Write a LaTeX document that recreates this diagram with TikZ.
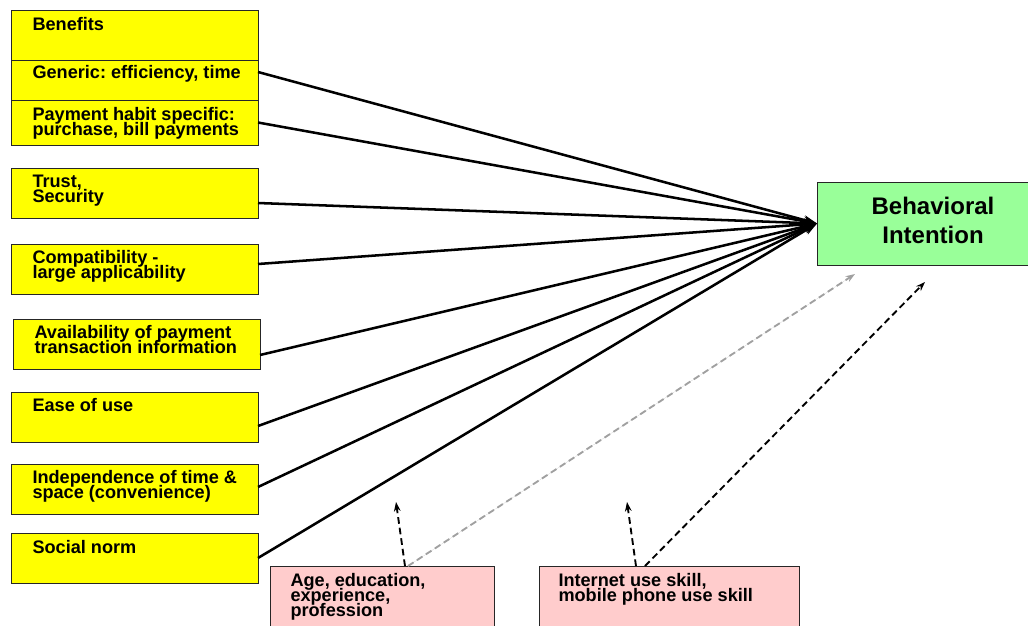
\documentclass[tikz,border=0pt]{standalone}
\usepackage{fontspec}
\setmainfont{Liberation Sans}
\usetikzlibrary{arrows.meta}
\frenchspacing

\definecolor{boxyellow}{RGB}{255,255,0}
\definecolor{boxgreen}{RGB}{153,255,153}
\definecolor{boxpink}{RGB}{255,204,204}
\definecolor{dashgrey}{RGB}{160,160,160}

\newcommand{\lblfont}{\bfseries\fontsize{13.6}{11.25}\selectfont\lineskiplimit=-6pt\relax}

\tikzset{every picture/.style={line width=0.75pt}}
\tikzset{
  ybox/.style={draw=black!85, fill=boxyellow, line width=0.75pt, anchor=north west, inner sep=0pt, outer sep=0pt, minimum width=185.25pt},
  pbox/.style={draw=black!85, fill=boxpink, line width=0.75pt, anchor=north west, inner sep=0pt, outer sep=0pt, minimum height=60pt},
  gbox/.style={draw=black!85, fill=boxgreen, line width=0.75pt, anchor=north west, inner sep=0pt, outer sep=0pt, minimum width=160pt, minimum height=62.25pt},
  lbl/.style={anchor=north west, inner sep=0pt, align=left, font=\lblfont},
  flow/.style={line width=1.9pt, -{Stealth[length=10pt,width=7pt]}},
  mod/.style={line width=1.4pt, dash pattern={on 5pt off 3pt}, -{Stealth[length=7pt,width=5pt]}}
}

\begin{document}
\begin{tikzpicture}[x=0.75pt,y=0.75pt,yscale=-1,xscale=1]
		\useasboundingbox (0,0) rectangle (1028,625);
		
		%Benefit boxes
		\node [ybox, minimum height=37.5pt] (ben) at (11,10) {};
		\node [ybox, minimum height=30pt] (gen) at (11,60) {};
		\node [ybox, minimum height=33.75pt] (pay) at (11,100) {};
		\node [ybox, minimum height=37.5pt] (trust) at (11,168) {};
		\node [ybox, minimum height=37.5pt] (compat) at (11,244) {};
		\node [ybox, minimum height=37.5pt] (avail) at (13,319) {};
		\node [ybox, minimum height=37.5pt] (ease) at (11,392) {};
		\node [ybox, minimum height=37.5pt] (indep) at (11,464) {};
		\node [ybox, minimum height=37.5pt] (norm) at (11,533) {};
		
		%Target box
		\node [gbox] (beh) at (817,182) {};
		\node [align=center, inner sep=0pt, font=\bfseries\fontsize{18}{21.75}\selectfont] (tbeh) at (933,220) {Behavioral\\Intention};
		
		%Moderator boxes
		\node [pbox, minimum width=168pt] (age) at (270,566) {};
		\node [pbox, minimum width=195pt] (skill) at (539,566) {};
		
		% Text Node
		\node [lbl] (tben) at (32,17) {Benefits};
		\node [lbl] (tgen) at (32,65) {Generic: efficiency, time};
		\node [lbl] (tpay) at (32,107) {Payment habit specific:\\purchase, bill payments};
		\node [lbl] (ttrust) at (32,175) {Trust,\\Security};
		\node [lbl] (tcompat) at (32,250) {Compatibility -\\large applicability};
		\node [lbl] (tavail) at (34,325) {Availability of payment\\transaction information};
		\node [lbl] (tease) at (32,398) {Ease of use};
		\node [lbl] (tindep) at (32,470) {Independence of time \&\\space (convenience)};
		\node [lbl] (tnorm) at (32,540) {Social norm};
		\node [lbl] (tage) at (290,573) {Age, education,\\experience,\\profession};
		\node [lbl] (tskill) at (558,573) {Internet use skill,\\mobile phone use skill};
		
		%Arrows into the target
		\draw [flow] ([yshift=-6pt]gen.east) -- (beh.west);
		\draw [flow] (pay.east) -- (beh.west);
		\draw [flow] ([yshift=7.5pt]trust.east) -- (beh.west);
		\draw [flow] ([yshift=-3.75pt]compat.east) -- (beh.west);
		\draw [flow] ([yshift=8.25pt]avail.east) -- (beh.west);
		\draw [flow] ([yshift=6.75pt]ease.east) -- (beh.west);
		\draw [flow] ([yshift=-1.5pt]indep.east) -- (beh.west);
		\draw [flow] (norm.east) -- (beh.west);
		
		%Moderator arrows
		\coordinate (agetip) at (396,502);
		\coordinate (skilltip) at (627,502);
		\coordinate (behtipa) at (855,274);
		\coordinate (behtipb) at (925,282);
		\draw [mod] ([xshift=17.25pt]age.north) -- (agetip);
		\draw [mod, draw=dashgrey, fill=dashgrey] ([xshift=19.5pt]age.north) -- (behtipa);
		\draw [mod] ([xshift=-24.75pt]skill.north) -- (skilltip);
		\draw [mod] ([xshift=-18pt]skill.north) -- (behtipb);
		
	\end{tikzpicture}
\end{document}
